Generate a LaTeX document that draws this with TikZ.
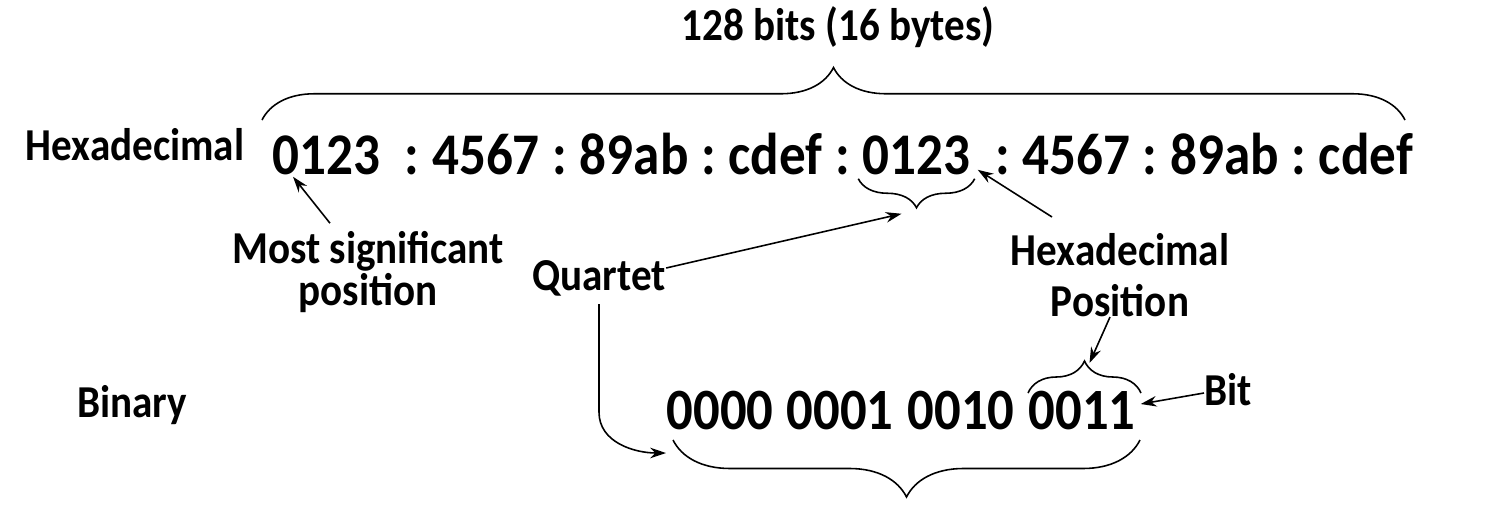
\documentclass[tikz,border=0pt]{standalone}
\usepackage{fontspec}
\setmainfont{Carlito}[FakeStretch=0.9]
\usepackage{tikz}
\usetikzlibrary{decorations.pathreplacing, positioning, arrows.meta}

\begin{document}
\begin{tikzpicture}[
    x=0.02cm, y=-0.02cm,
    lbl/.style={font=\fontsize{26}{22}\selectfont\bfseries, inner sep=0pt, align=center},
    hex/.style={font=\fontsize{33.6}{36}\selectfont\bfseries, inner sep=0pt, anchor=base west},
    bin/.style={font=\fontsize{33.3}{35}\selectfont\bfseries, inner sep=0pt, anchor=base},
    arrow/.style={-{Stealth[length=9pt, width=6pt]}, line width=0.9pt},
    brc/.style={decorate, line width=0.9pt, decoration={brace, amplitude=#1}}
]
    \useasboundingbox (0,0) rectangle (1498,518);

    % Labels
    \node[lbl] (title) at (838,27) {128 bits (16 bytes)};
    \node[lbl] (hexlbl) at (135,145) {Hexadecimal};
    \node[lbl] (binlbl) at (132,405) {Binary};
    \node[lbl] (msp) at (368,272) {Most significant\\position};
    \node[lbl] (quartet) at (599,278) {Quartet};
    \node[lbl] (hexpos) at (1120,275) {Hexadecimal\\[7pt]Position};
    \node[lbl] (bit) at (1228,390) {Bit};

    % Hexadecimal row
    \node[hex] (g1) at (272,174) {0123};
    \node[hex] (s1) at (g1.base east) {\ \ :\ \mbox{}};
    \node[hex] (g2) at (s1.base east) {4567};
    \node[hex] (s2) at (g2.base east) {\ :\ \mbox{}};
    \node[hex] (g3) at (s2.base east) {89ab};
    \node[hex] (s3) at (g3.base east) {\ :\ \mbox{}};
    \node[hex] (g4) at (s3.base east) {cdef};
    \node[hex] (s4) at (g4.base east) {\ :\ \mbox{}};
    \node[hex] (g5) at (s4.base east) {0123};
    \node[hex] (s5) at (g5.base east) {\ \ :\ \mbox{}};
    \node[hex] (g6) at (s5.base east) {4567};
    \node[hex] (s6) at (g6.base east) {\ :\ \mbox{}};
    \node[hex] (g7) at (s6.base east) {89ab};
    \node[hex] (s7) at (g7.base east) {\ :\ \mbox{}};
    \node[hex] (g8) at (s7.base east) {cdef};

    % Binary row
    \node[bin] (b1) at (720,429) {0000};
    \node[bin] (b2) at (840,429) {0001};
    \node[bin] (b3) at (961,429) {0010};
    \node[bin] (b4) at (1082,429) {0011};

    % Braces
    \draw[brc=1.05cm] (262,120) -- (1405,120) coordinate[midway] (toptip);
    \draw[brc=0.58cm] ([shift={(4,4)}]g5.south east) -- ([shift={(-4,4)}]g5.south west)
        coordinate[midway, yshift=-0.6cm] (qtip);
    \draw[brc=0.64cm] (1028,393) -- (1141,393) coordinate[midway, yshift=0.66cm] (ptip);
    \draw[brc=1.14cm] (1140,440) -- (673,440);

    % Arrows
    \coordinate (qend) at (666,453);
    \draw[arrow] ([shift={(-38,-8)}]msp.north) -- ([xshift=0.42cm, yshift=-0.04cm]g1.south west);
    \draw[arrow] ([yshift=0.2cm]quartet.east) -- ([xshift=-0.3cm, yshift=-0.1cm]qtip);
    \draw[arrow] ([yshift=-0.16cm]quartet.south) -- ++(0,108) to[out=-90, in=180] (qend);
    \draw[arrow] ([xshift=-1.36cm, yshift=0.32cm]hexpos.north) -- ([xshift=0.14cm, yshift=0.1cm]g5.south east);
    \draw[arrow] ([xshift=-0.2cm]hexpos.south) -- ([xshift=0.1cm, yshift=-0.06cm]ptip);
    \draw[arrow] ([yshift=-0.06cm]bit.west) -- ([xshift=0.1cm, yshift=0.12cm]b4.east);
\end{tikzpicture}
\end{document}
